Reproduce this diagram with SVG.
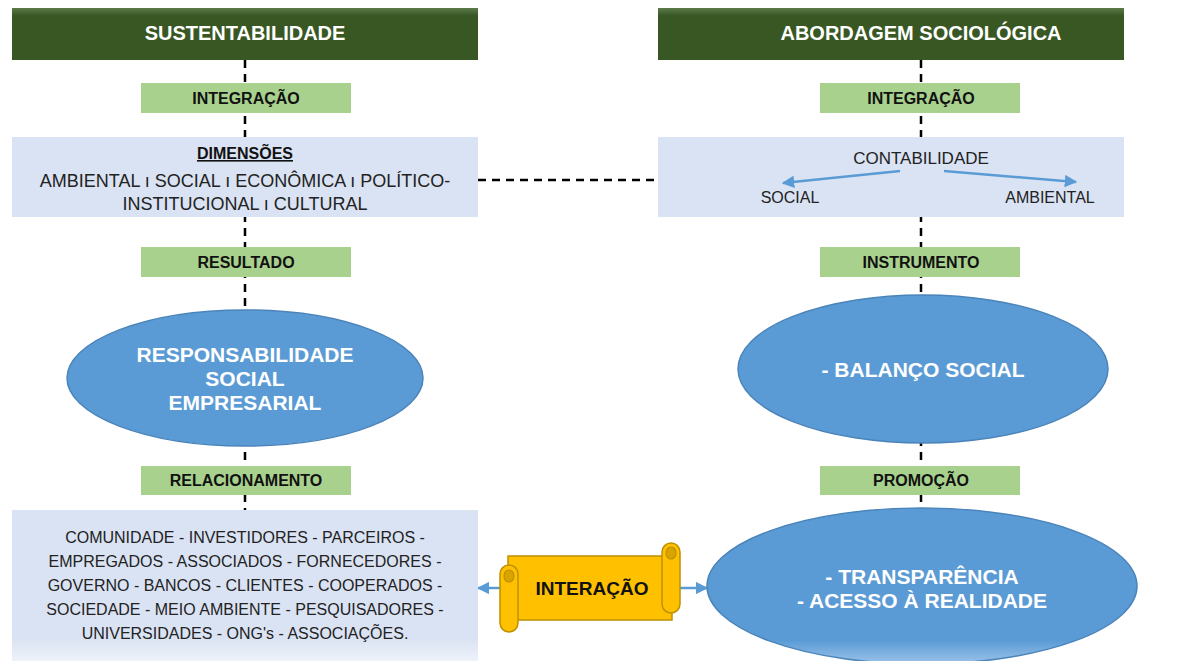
<svg xmlns="http://www.w3.org/2000/svg" width="1184" height="661" viewBox="0 0 1184 661">
  <defs>
    <style>
      .hdr-t { font-family: "Liberation Sans Narrow", "Liberation Sans", Arial, sans-serif; font-weight: bold; font-size: 20px; fill: #ffffff; text-anchor: middle; }
      .tag { fill: #a9d18e; }
      .tag-t { font-family: "Liberation Sans Narrow", "Liberation Sans", Arial, sans-serif; font-weight: bold; font-size: 16px; fill: #111111; text-anchor: middle; }
      .panel { fill: #dae3f3; }
      .body-t { font-family: "Liberation Sans", Arial, sans-serif; font-size: 18px; fill: #222222; text-anchor: middle; }
      .small-t { font-family: "Liberation Sans", Arial, sans-serif; font-size: 16px; fill: #222222; text-anchor: middle; }
      .oval { fill: #5b9bd5; stroke: #4a84ba; stroke-width: 1.5; }
      .oval-t { font-family: "Liberation Sans Narrow", "Liberation Sans", Arial, sans-serif; font-weight: bold; font-size: 21px; fill: #ffffff; text-anchor: middle; }
      .dash { stroke: #000000; stroke-width: 2.5; stroke-dasharray: 8 6; fill: none; }
      .blue { stroke: #5b9bd5; stroke-width: 2.5; fill: none; }
      .scroll { fill: #ffc000; stroke: #bf9000; stroke-width: 1.5; }
      .curl { fill: #d9a300; stroke: #bf9000; stroke-width: 1.2; }
    </style>
    <marker id="arrowBlue" viewBox="0 0 10 10" refX="9" refY="5" markerWidth="5" markerHeight="5" orient="auto-start-reverse">
      <path d="M0,0 L10,5 L0,10 z" fill="#5b9bd5"/>
    </marker>
    <linearGradient id="hdrFade" x1="0" y1="0" x2="0" y2="1">
      <stop offset="0" stop-color="#5d7a4a"/>
      <stop offset="0.15" stop-color="#385723"/>
      <stop offset="1" stop-color="#385723"/>
    </linearGradient>
    <linearGradient id="panelFade" x1="0" y1="0" x2="0" y2="1">
      <stop offset="0" stop-color="#dae3f3"/>
      <stop offset="0.85" stop-color="#dae3f3"/>
      <stop offset="1" stop-color="#eef2f9"/>
    </linearGradient>
    <linearGradient id="ovalFade" x1="0" y1="0" x2="0" y2="1">
      <stop offset="0" stop-color="#5b9bd5"/>
      <stop offset="0.85" stop-color="#5b9bd5"/>
      <stop offset="1" stop-color="#9cc3e8"/>
    </linearGradient>
  </defs>

  <rect width="1184" height="661" fill="#ffffff"/>

  <!-- dashed spines and the links from the scroll -->
  <g id="connectors">
    <line class="dash" x1="245" y1="60" x2="245" y2="510"/>
    <line class="dash" x1="921" y1="60" x2="921" y2="510"/>
    <line class="dash" x1="478" y1="180" x2="658" y2="180"/>
    <line class="blue" x1="500" y1="588" x2="478" y2="588" marker-end="url(#arrowBlue)"/>
    <line class="blue" x1="680" y1="588" x2="707" y2="588" marker-end="url(#arrowBlue)"/>
  </g>

  <!-- left column -->
  <g id="sustentabilidade">
    <rect x="12" y="8" width="466" height="52" fill="url(#hdrFade)"/>
    <text class="hdr-t" x="245" y="40">SUSTENTABILIDADE</text>
  </g>
  <g id="integracao-left">
    <rect class="tag" x="141" y="83" width="210" height="30"/>
    <text class="tag-t" x="246" y="104">INTEGRAÇÃO</text>
  </g>
  <g id="dimensoes">
    <rect class="panel" x="12" y="137" width="466" height="80"/>
    <text class="tag-t" x="245" y="159" text-decoration="underline" fill="#222222">DIMENSÕES</text>
    <text class="body-t" x="245" y="187">AMBIENTAL ı SOCIAL ı ECONÔMICA ı POLÍTICO-</text>
    <text class="body-t" x="245" y="210">INSTITUCIONAL ı CULTURAL</text>
  </g>
  <g id="resultado">
    <rect class="tag" x="141" y="247" width="210" height="30"/>
    <text class="tag-t" x="246" y="268">RESULTADO</text>
  </g>
  <g id="responsabilidade">
    <ellipse class="oval" cx="245" cy="378" rx="178" ry="68"/>
    <text class="oval-t" x="245" y="362">RESPONSABILIDADE</text>
    <text class="oval-t" x="245" y="386">SOCIAL</text>
    <text class="oval-t" x="245" y="410">EMPRESARIAL</text>
  </g>
  <g id="relacionamento">
    <rect class="tag" x="141" y="466" width="210" height="29"/>
    <text class="tag-t" x="246" y="486">RELACIONAMENTO</text>
  </g>
  <g id="stakeholders">
    <rect x="12" y="510" width="466" height="151" fill="url(#panelFade)"/>
    <text class="small-t" x="245" y="543">COMUNIDADE - INVESTIDORES - PARCEIROS -</text>
    <text class="small-t" x="245" y="567">EMPREGADOS - ASSOCIADOS - FORNECEDORES -</text>
    <text class="small-t" x="245" y="591">GOVERNO - BANCOS - CLIENTES - COOPERADOS -</text>
    <text class="small-t" x="245" y="615">SOCIEDADE - MEIO AMBIENTE - PESQUISADORES -</text>
    <text class="small-t" x="245" y="639">UNIVERSIDADES - ONG's - ASSOCIAÇÕES.</text>
  </g>

  <!-- right column -->
  <g id="abordagem">
    <rect x="658" y="8" width="466" height="52" fill="url(#hdrFade)"/>
    <text class="hdr-t" x="921" y="40">ABORDAGEM SOCIOLÓGICA</text>
  </g>
  <g id="integracao-right">
    <rect class="tag" x="820" y="83" width="200" height="30"/>
    <text class="tag-t" x="921" y="104">INTEGRAÇÃO</text>
  </g>
  <g id="contabilidade">
    <rect class="panel" x="658" y="137" width="466" height="80"/>
    <text class="small-t" x="921" y="164" style="font-size:17px">CONTABILIDADE</text>
    <line class="blue" x1="900" y1="171" x2="783" y2="183" marker-end="url(#arrowBlue)"/>
    <line class="blue" x1="944" y1="171" x2="1076" y2="182" marker-end="url(#arrowBlue)"/>
    <text class="small-t" x="790" y="203">SOCIAL</text>
    <text class="small-t" x="1050" y="203">AMBIENTAL</text>
  </g>
  <g id="instrumento">
    <rect class="tag" x="820" y="247" width="200" height="30"/>
    <text class="tag-t" x="921" y="268">INSTRUMENTO</text>
  </g>
  <g id="balanco">
    <ellipse class="oval" cx="923" cy="369" rx="185" ry="74"/>
    <text class="oval-t" x="923" y="377">- BALANÇO SOCIAL</text>
  </g>
  <g id="promocao">
    <rect class="tag" x="820" y="466" width="200" height="29"/>
    <text class="tag-t" x="921" y="486">PROMOÇÃO</text>
  </g>
  <g id="transparencia">
    <ellipse cx="922" cy="586" rx="215" ry="78" fill="url(#ovalFade)" stroke="#4a84ba" stroke-width="1.5"/>
    <text class="oval-t" x="922" y="584">- TRANSPARÊNCIA</text>
    <text class="oval-t" x="922" y="608">- ACESSO À REALIDADE</text>
  </g>

  <!-- scroll banner between the bottom nodes -->
  <g id="interacao">
    <rect class="scroll" x="508" y="556" width="164" height="64"/>
    <rect class="scroll" x="662" y="543" width="18" height="70" rx="9"/>
    <ellipse class="curl" cx="671" cy="553" rx="5" ry="6"/>
    <rect class="scroll" x="500" y="565" width="18" height="67" rx="9"/>
    <ellipse class="curl" cx="509" cy="576" rx="5" ry="6"/>
    <text class="tag-t" x="592" y="595" style="font-size:19px">INTERAÇÃO</text>
  </g>
</svg>
